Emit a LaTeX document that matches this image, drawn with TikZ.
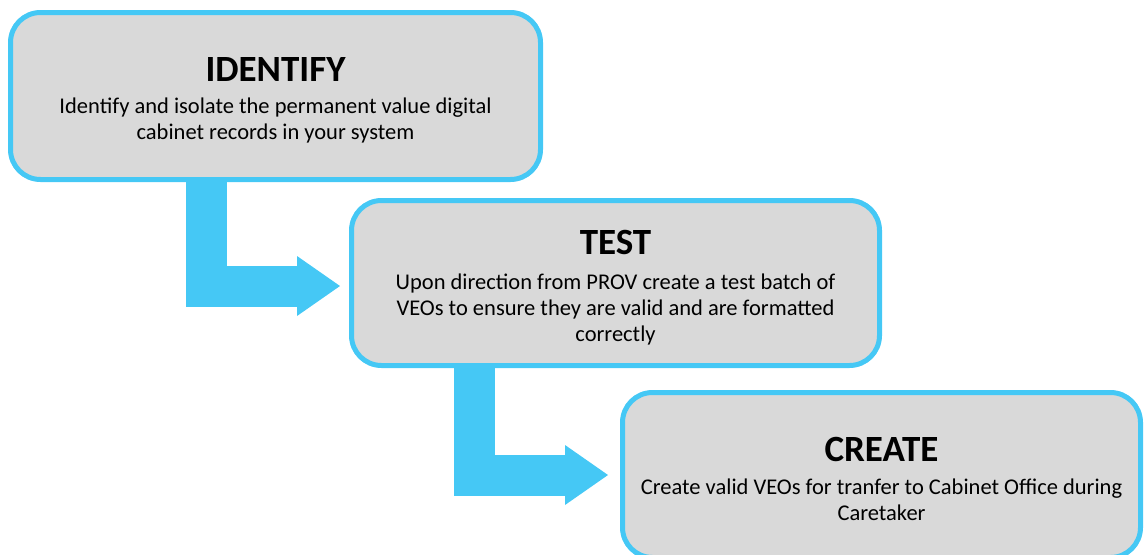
\documentclass[tikz,border=0pt]{standalone}
\usepackage{fontspec}
\setmainfont{Carlito}
\usepackage{xcolor}
\usetikzlibrary{arrows.meta,positioning}

\definecolor{stepcyan}{HTML}{45C8F5}
\definecolor{stepgray}{HTML}{D9D9D9}

\newcommand{\steptitle}[1]{{\fontsize{37}{44}\selectfont\bfseries #1}}

\begin{document}
\begin{tikzpicture}[
    x=1pt, y=1pt,
    stepbox/.style={rectangle, draw=stepcyan, fill=stepgray, line width=5pt, rounded corners=30pt},
    steptext/.style={align=center, inner sep=0pt, font=\fontsize{22.5}{26}\selectfont},
    flowarrow/.style={draw=stepcyan, line width=41pt, -{Triangle[length=43pt, width=60pt, line width=0pt]}}
]
\useasboundingbox (0,0) rectangle (1145,-554);
\clip (0,0) rectangle (1145,-554);

% Steps
\node[stepbox, minimum width=530pt, minimum height=167pt] (identify) at (275.5,-96) {};
\node[stepbox, minimum width=528pt, minimum height=165pt] (test) at (615.5,-283) {};
\node[stepbox, minimum width=518pt, minimum height=165pt] (create) at (881.5,-475) {};

% Step texts
\node[steptext] (identifytext) at ([yshift=-4pt]identify.center)
    {\steptitle{IDENTIFY}\\[6pt]
     Identify and isolate the permanent value digital\\
     cabinet records in your system};
\node[steptext] (testtext) at ([yshift=-5pt]test.center)
    {\steptitle{TEST}\\[9pt]
     Upon direction from PROV create a test batch of\\
     VEOs to ensure they are valid and are formatted\\
     correctly};
\node[steptext] (createtext) at ([yshift=-4pt]create.center)
    {\steptitle{CREATE}\\[7pt]
     Create valid VEOs for tranfer to Cabinet Office during\\
     Caretaker};

% Arrows
\draw[flowarrow] ([xshift=-69pt]identify.south) |- ([xshift=-9pt, yshift=-3pt]test.west);
\draw[flowarrow] ([xshift=-141pt]test.south) |- ([xshift=-12pt]create.west);

\end{tikzpicture}
\end{document}
